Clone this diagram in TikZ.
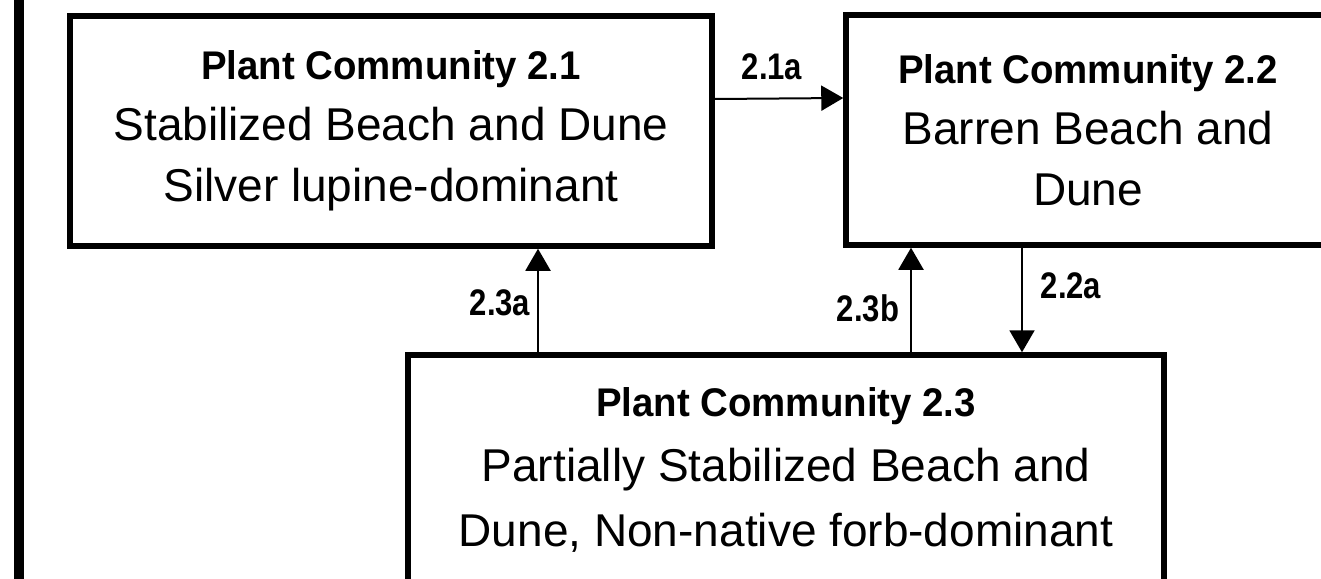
\documentclass[tikz,border=0pt]{standalone}
\usepackage{fontspec}
\setmainfont{Liberation Sans}
\newfontfamily\titlefont[FakeStretch=0.96]{Liberation Sans}
\newfontfamily\labelfont[FakeStretch=0.84]{Liberation Sans}
\usepackage{tikz}
\usetikzlibrary{arrows.meta,positioning}

\begin{document}
\begin{tikzpicture}[x=1pt,y=-1pt]
\tikzstyle{community} = [draw,line width=5.5pt,minimum height=230pt,inner sep=0pt,align=center,font=\fontsize{46}{61}\selectfont]
\tikzstyle{flow} = [line width=2pt,-{Triangle[length=22pt,width=25pt]}]
\tikzstyle{plabel} = [inner sep=0pt,font=\labelfont\bfseries\fontsize{37}{40}\selectfont]
\newcommand{\ptitle}[1]{{\titlefont\bfseries\fontsize{40}{61}\selectfont Plant Community #1}}

\clip (0,0) rectangle (1321,578);
\fill[white] (0,0) rectangle (1321,578);

% frame edge on the left
\draw[line width=10pt] (18.5,-10) -- (18.5,590);

\node[community,minimum width=642pt] (pc21) at (391,131)
  {\ptitle{2.1}\\Stabilized Beach and Dune\\Silver lupine-dominant};
\node[community,minimum width=484pt] (pc22) at (1088,130)
  {\ptitle{2.2}\\Barren Beach and\\Dune};
\node[community,minimum width=756pt,font=\fontsize{46}{65}\selectfont] (pc23) at (786,470)
  {\ptitle{2.3}\\Partially Stabilized Beach and\\Dune, Non-native forb-dominant};

\coordinate (x23a) at (538,0);
\coordinate (x23b) at (911,0);
\coordinate (x22a) at (1022,0);

\draw[flow] ([yshift=32pt]pc21.east) -- ([yshift=32pt]pc22.west);
\draw[flow] (pc23.north -| x23a) -- (pc21.south -| x23a);
\draw[flow] (pc23.north -| x23b) -- (pc22.south -| x23b);
\draw[flow] (pc22.south -| x22a) -- (pc23.north -| x22a);

\node[plabel] (l21a) at (772,67) {2.1a};
\node[plabel] (l23a) at (500,303) {2.3a};
\node[plabel] (l23b) at (868,308) {2.3b};
\node[plabel] (l22a) at (1071,286) {2.2a};

\end{tikzpicture}
\end{document}
